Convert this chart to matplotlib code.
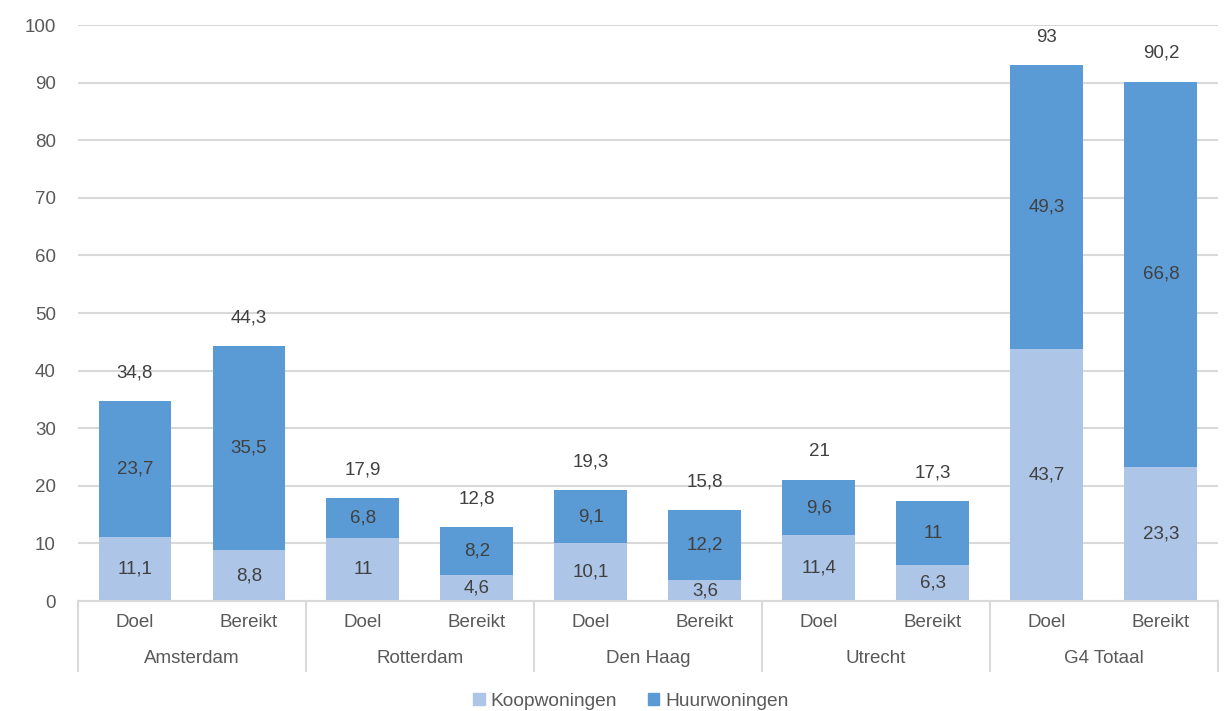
import numpy as np
import matplotlib.pyplot as plt
from matplotlib.patches import Patch
import matplotlib.transforms as mtransforms

plt.rcParams['font.family'] = ['Liberation Sans', 'DejaVu Sans']

steden = ['Amsterdam', 'Rotterdam', 'Den Haag', 'Utrecht', 'G4 Totaal']
soorten = ['Doel', 'Bereikt']
koop = [11.1, 8.8, 11, 4.6, 10.1, 3.6, 11.4, 6.3, 43.7, 23.3]
huur = [23.7, 35.5, 6.8, 8.2, 9.1, 12.2, 9.6, 11, 49.3, 66.8]
totaal = [34.8, 44.3, 17.9, 12.8, 19.3, 15.8, 21, 17.3, 93, 90.2]

c_koop = '#ADC5E7'
c_huur = '#5B9BD5'
c_text = '#595959'
c_grid = '#D9D9D9'

def fmt(v):
    s = ('%g' % v).replace('.', ',')
    return s

fig = plt.figure(figsize=(12.32, 7.11), dpi=100)
ax = fig.add_axes([0.0633, 0.1547, 0.9253, 0.8101])

x = np.arange(len(koop))
w = 0.64
ax.bar(x, koop, w, color=c_koop, zorder=2)
ax.bar(x, huur, w, bottom=koop, color=c_huur, zorder=2)

for i in range(len(koop)):
    ax.text(x[i], koop[i] / 2, fmt(koop[i]), ha='center', va='center',
            fontsize=13.5, color='#404040', zorder=3)
    ax.text(x[i], koop[i] + huur[i] / 2, fmt(huur[i]), ha='center', va='center',
            fontsize=13.5, color='#404040', zorder=3)
    ax.annotate(fmt(totaal[i]), (x[i], totaal[i]), xytext=(0, 20.2),
                textcoords='offset points', ha='center', va='center',
                fontsize=13.5, color='#404040')

ax.set_xlim(-0.5, len(koop) - 0.5)
ax.set_ylim(0, 100)
ax.set_yticks(range(0, 101, 10))
ax.tick_params(axis='y', length=0, pad=16, labelsize=13.5, labelcolor=c_text)
ax.set_xticks([])
ax.grid(axis='y', color=c_grid, linewidth=1.5, zorder=0)
for s in ['left', 'right', 'top']:
    ax.spines[s].set_visible(False)
ax.spines['bottom'].set_color(c_grid)
ax.spines['bottom'].set_linewidth(1.5)

# category axis with two levels
tr = mtransforms.blended_transform_factory(ax.transData, ax.transAxes)
for g in range(len(steden) + 1):
    xs = g * 2 - 0.5
    ax.plot([xs, xs], [0, -0.1215], transform=tr, color=c_grid, lw=1.5,
            clip_on=False)
for i in range(len(koop)):
    ax.text(x[i], -0.037, soorten[i % 2], transform=tr, ha='center', va='center',
            fontsize=13.5, color=c_text)
for g, naam in enumerate(steden):
    ax.text(g * 2 + 0.5, -0.099, naam, transform=tr, ha='center', va='center',
            fontsize=13.5, color=c_text)

handles = [Patch(color=c_koop, label='Koopwoningen'),
           Patch(color=c_huur, label='Huurwoningen')]
fig.legend(handles=handles, loc='center', bbox_to_anchor=(0.512, 0.014), ncol=2,
           frameon=False, fontsize=13.8, handlelength=0.6, handleheight=0.6,
           handletextpad=0.3, columnspacing=1.6, labelcolor=c_text)

fig.savefig('out.png', dpi=100)
